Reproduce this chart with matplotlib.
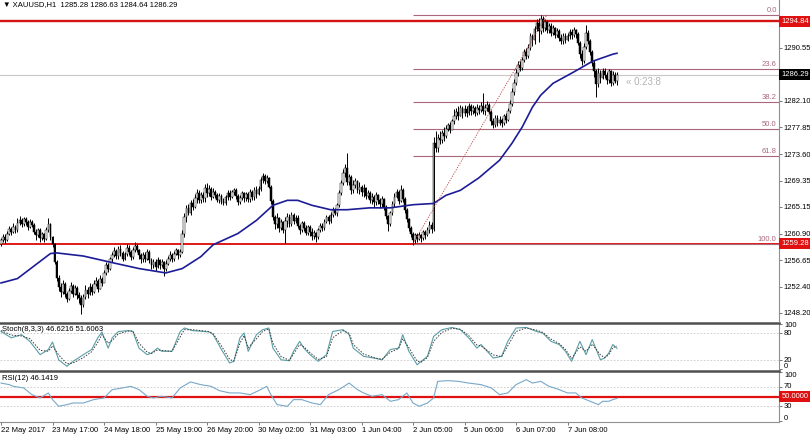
import matplotlib
matplotlib.use('agg')
import matplotlib.pyplot as plt

plt.rcParams['font.family'] = ['Liberation Sans', 'DejaVu Sans']

# H1 candles, one row per date label interval (25 bars)
first_open = 1259.3
closes = [
    1259.8, 1260.4, 1259.9, 1260.9, 1261.6, 1261.2, 1262.0, 1261.4, 1262.6, 1263.1, 1262.4, 1263.2, 1262.7, 1261.9, 1262.8, 1262.3, 1261.2, 1260.6, 1261.4, 1260.2, 1260.8, 1260.1, 1261.5, 1262.4, 1260.3,
    1259.2, 1256.4, 1253.8, 1252.3, 1251.6, 1252.8, 1251.2, 1250.4, 1251.7, 1252.5, 1251.3, 1252.2, 1251.0, 1250.6, 1249.4, 1250.8, 1251.9, 1251.2, 1252.4, 1251.6, 1252.9, 1253.3, 1252.1, 1253.6, 1253.0,
    1254.6, 1255.9, 1255.2, 1256.8, 1257.5, 1258.1, 1257.3, 1258.4, 1257.8, 1256.9, 1257.6, 1258.6, 1258.0, 1257.1, 1258.3, 1258.9, 1258.2, 1257.4, 1256.8, 1257.5, 1256.9, 1257.9, 1256.6, 1255.8, 1256.4,
    1255.6, 1256.7, 1255.9, 1256.3, 1255.2, 1256.1, 1256.9, 1257.5, 1256.8, 1257.7, 1258.2, 1257.4, 1258.0, 1260.9, 1263.5, 1264.9, 1264.2, 1265.8, 1265.1, 1266.6, 1267.4, 1266.2, 1267.1, 1266.5, 1268.2,
    1267.3, 1268.0, 1266.8, 1267.6, 1267.1, 1266.3, 1266.9, 1266.0, 1265.8, 1266.7, 1267.4, 1266.8, 1267.5, 1267.8, 1266.9, 1265.9, 1266.6, 1267.3, 1266.5, 1267.2, 1266.4, 1267.6, 1266.7, 1267.9, 1267.2,
    1268.0, 1269.4, 1270.1, 1269.3, 1269.8, 1268.4, 1266.1, 1263.5, 1262.4, 1263.3, 1261.8, 1262.7, 1261.5, 1262.9, 1263.6, 1262.4, 1263.8, 1262.9, 1263.4, 1262.1, 1261.5, 1262.6, 1261.8, 1261.0, 1261.9,
    1261.2, 1260.5, 1261.0, 1260.3, 1261.4, 1262.1, 1261.7, 1262.8, 1263.5, 1262.9, 1263.9, 1264.6, 1264.2, 1265.4, 1267.3, 1268.9, 1270.6, 1271.4, 1269.2, 1270.0, 1267.8, 1268.7, 1269.3, 1267.9, 1268.4,
    1267.5, 1268.1, 1266.9, 1267.4, 1266.3, 1266.8, 1265.9, 1267.0, 1266.2, 1265.6, 1266.4, 1265.1, 1263.7, 1262.4, 1264.1, 1265.6, 1266.8, 1267.5, 1266.1, 1267.9, 1266.4, 1264.7, 1263.2, 1261.8, 1260.9,
    1259.8, 1260.6, 1260.1, 1260.7, 1260.2, 1261.1, 1260.6, 1261.5, 1262.2, 1261.6, 1275.4, 1274.6, 1276.2, 1275.8, 1276.9, 1276.4, 1277.6, 1278.2, 1277.5, 1278.8, 1279.6, 1280.3, 1279.7, 1280.9, 1280.2,
    1280.8, 1280.1, 1281.2, 1280.5, 1280.9, 1280.2, 1281.0, 1280.6, 1281.3, 1280.4, 1280.9, 1281.5, 1280.3, 1278.9, 1278.2, 1279.4, 1278.6, 1279.1, 1278.5, 1279.6, 1279.0, 1280.4, 1281.6, 1283.5, 1285.0,
    1286.6, 1287.9, 1287.4, 1288.6, 1289.9, 1289.3, 1290.6, 1292.4, 1291.8, 1293.6, 1294.5, 1293.2, 1295.1, 1293.8, 1294.7, 1293.4, 1294.1, 1293.0, 1293.7, 1292.6, 1293.3, 1292.2, 1291.6, 1292.5, 1291.8,
    1292.4, 1293.1, 1292.6, 1293.4, 1292.8, 1291.3, 1289.6, 1288.4, 1290.7, 1292.9, 1291.6, 1289.9, 1288.2, 1286.8, 1284.8, 1286.6, 1285.7, 1286.9, 1286.2, 1285.4, 1286.8, 1284.9, 1286.3, 1285.28, 1286.29,
]
highs = [
    1260.2, 1260.9, 1260.8, 1261.3, 1262.1, 1262.0, 1262.5, 1262.3, 1263.3, 1263.7, 1263.4, 1263.6, 1263.5, 1263.0, 1263.2, 1263.0, 1262.5, 1261.6, 1261.8, 1261.7, 1261.2, 1261.0, 1261.9, 1263.3, 1262.6,
    1260.5, 1259.4, 1256.6, 1254.2, 1253.0, 1253.4, 1253.1, 1251.6, 1252.2, 1253.2, 1252.8, 1252.7, 1252.5, 1251.5, 1251.0, 1251.3, 1252.6, 1252.3, 1253.0, 1252.9, 1253.5, 1253.9, 1253.6, 1254.3, 1253.9,
    1255.0, 1256.3, 1256.2, 1257.1, 1258.0, 1258.7, 1258.5, 1258.9, 1259.0, 1258.1, 1258.0, 1259.2, 1259.0, 1258.3, 1258.8, 1259.5, 1259.3, 1258.5, 1257.8, 1258.0, 1257.9, 1258.4, 1258.2, 1257.0, 1256.9,
    1256.8, 1257.2, 1256.9, 1256.8, 1256.5, 1256.6, 1257.3, 1258.1, 1257.8, 1258.1, 1258.6, 1258.5, 1258.4, 1261.4, 1264.2, 1265.5, 1265.6, 1266.3, 1266.4, 1267.2, 1268.0, 1267.9, 1267.6, 1267.5, 1268.8,
    1269.0, 1268.6, 1268.3, 1268.1, 1267.9, 1267.4, 1267.4, 1267.2, 1266.6, 1267.1, 1267.8, 1267.8, 1267.9, 1268.2, 1268.1, 1267.2, 1267.0, 1267.7, 1267.6, 1267.6, 1267.5, 1268.0, 1267.9, 1268.3, 1268.5,
    1268.5, 1269.9, 1270.5, 1270.4, 1270.3, 1270.0, 1268.6, 1266.4, 1263.9, 1264.1, 1263.5, 1263.2, 1262.9, 1263.5, 1264.2, 1264.0, 1264.3, 1264.1, 1263.9, 1263.8, 1262.4, 1262.9, 1262.9, 1262.2, 1262.3,
    1262.3, 1261.7, 1261.5, 1261.2, 1261.8, 1262.6, 1262.5, 1263.2, 1263.9, 1263.8, 1264.3, 1265.1, 1265.0, 1265.8, 1267.8, 1269.4, 1271.2, 1272.0, 1273.8, 1270.4, 1270.3, 1269.5, 1269.8, 1269.5, 1269.1,
    1268.6, 1268.8, 1268.4, 1267.9, 1267.7, 1267.3, 1267.0, 1267.5, 1267.2, 1266.6, 1266.9, 1266.6, 1265.4, 1263.9, 1264.5, 1266.1, 1267.3, 1268.0, 1267.8, 1268.6, 1268.2, 1266.7, 1265.0, 1263.4, 1262.1,
    1261.2, 1261.0, 1261.0, 1261.2, 1260.9, 1261.5, 1261.4, 1262.0, 1262.9, 1262.7, 1276.3, 1277.3, 1276.8, 1277.2, 1277.4, 1277.9, 1278.3, 1278.6, 1278.7, 1279.2, 1280.8, 1281.0, 1281.2, 1281.4, 1281.3,
    1281.4, 1281.3, 1281.7, 1281.6, 1281.5, 1281.2, 1281.6, 1281.4, 1281.9, 1283.3, 1281.6, 1282.1, 1281.8, 1280.7, 1279.3, 1279.9, 1279.8, 1279.7, 1279.4, 1280.0, 1280.1, 1281.0, 1282.2, 1284.1, 1285.6,
    1287.2, 1288.4, 1288.5, 1289.1, 1290.4, 1290.6, 1291.1, 1292.9, 1292.8, 1294.1, 1295.1, 1295.3, 1295.85, 1295.6, 1295.2, 1295.0, 1294.6, 1294.5, 1294.2, 1293.9, 1293.8, 1293.6, 1292.8, 1293.0, 1292.9,
    1293.0, 1293.6, 1293.5, 1293.9, 1293.6, 1293.1, 1291.6, 1290.2, 1291.3, 1294.2, 1293.4, 1292.0, 1290.3, 1288.6, 1287.2, 1287.3, 1287.1, 1287.4, 1287.3, 1286.7, 1287.2, 1287.1, 1286.8, 1286.7, 1286.63,
]
lows = [
    1258.9, 1259.5, 1259.4, 1259.7, 1260.6, 1260.7, 1261.0, 1261.0, 1261.2, 1262.3, 1262.0, 1262.1, 1262.2, 1261.5, 1261.7, 1261.9, 1260.9, 1259.8, 1260.3, 1259.6, 1259.9, 1259.6, 1259.9, 1261.2, 1259.8,
    1258.8, 1256.0, 1253.3, 1251.7, 1250.8, 1251.3, 1250.7, 1249.9, 1250.2, 1251.4, 1250.8, 1251.0, 1250.5, 1249.8, 1248.0, 1249.1, 1250.5, 1250.6, 1251.0, 1251.1, 1251.4, 1252.5, 1251.6, 1252.0, 1252.5,
    1253.1, 1254.3, 1254.7, 1255.0, 1256.4, 1257.1, 1256.9, 1256.9, 1257.3, 1256.5, 1256.6, 1257.3, 1257.5, 1256.6, 1256.9, 1258.0, 1257.9, 1256.8, 1256.2, 1256.4, 1256.3, 1256.7, 1256.2, 1255.2, 1255.4,
    1254.9, 1255.4, 1255.3, 1255.6, 1254.1, 1254.9, 1255.8, 1256.5, 1256.3, 1256.5, 1257.4, 1256.9, 1257.1, 1257.8, 1260.4, 1262.8, 1263.8, 1263.9, 1264.6, 1264.9, 1265.8, 1265.7, 1265.8, 1265.9, 1266.0,
    1266.8, 1266.9, 1266.3, 1266.5, 1266.6, 1265.9, 1265.8, 1265.6, 1265.4, 1265.5, 1266.3, 1266.3, 1266.6, 1267.0, 1266.4, 1265.5, 1265.6, 1266.2, 1266.0, 1266.1, 1265.9, 1266.0, 1266.2, 1266.3, 1266.6,
    1267.0, 1267.7, 1269.0, 1268.8, 1268.9, 1268.1, 1265.6, 1263.0, 1261.6, 1261.8, 1261.2, 1261.4, 1261.0, 1259.4, 1262.0, 1262.0, 1262.1, 1262.4, 1262.5, 1261.8, 1260.8, 1261.2, 1261.3, 1260.6, 1260.7,
    1260.5, 1259.9, 1260.1, 1259.6, 1260.0, 1261.1, 1261.3, 1261.5, 1262.5, 1262.4, 1262.6, 1263.5, 1263.8, 1263.7, 1265.2, 1267.0, 1268.6, 1270.0, 1268.7, 1268.6, 1267.2, 1267.3, 1268.2, 1267.3, 1267.2,
    1266.9, 1266.8, 1266.4, 1266.5, 1265.7, 1265.6, 1265.2, 1265.5, 1265.6, 1264.9, 1265.2, 1264.6, 1263.2, 1261.3, 1262.1, 1263.8, 1265.2, 1266.6, 1265.6, 1265.9, 1266.0, 1264.2, 1262.8, 1261.3, 1260.4,
    1259.0, 1259.4, 1259.5, 1259.8, 1259.6, 1259.9, 1260.0, 1260.5, 1261.0, 1261.0, 1261.3, 1273.9, 1274.0, 1275.2, 1275.3, 1275.7, 1276.1, 1277.3, 1277.0, 1277.6, 1278.4, 1279.2, 1279.0, 1279.6, 1279.4,
    1279.6, 1279.5, 1279.9, 1279.8, 1280.0, 1279.6, 1279.9, 1280.0, 1280.3, 1280.0, 1279.8, 1280.4, 1280.0, 1278.2, 1277.7, 1277.9, 1278.0, 1278.3, 1277.9, 1278.2, 1278.6, 1278.8, 1280.1, 1281.2, 1283.0,
    1284.6, 1286.1, 1286.8, 1287.1, 1288.3, 1288.8, 1289.0, 1290.3, 1290.9, 1291.2, 1293.2, 1291.5, 1292.8, 1293.1, 1293.3, 1292.9, 1293.0, 1292.4, 1292.6, 1292.1, 1292.3, 1291.6, 1291.1, 1291.2, 1291.3,
    1291.6, 1291.9, 1292.0, 1292.3, 1292.2, 1291.0, 1288.9, 1287.8, 1288.1, 1290.4, 1291.2, 1289.5, 1287.7, 1285.9, 1282.7, 1284.3, 1285.0, 1285.6, 1285.7, 1284.8, 1285.0, 1284.4, 1284.6, 1284.9, 1284.64,
]

# moving average
ma_bars = [0, 8, 16, 24, 27, 40, 48, 56, 67, 80, 88, 97, 103, 115, 124, 132, 139, 144, 151, 160,
           168, 179, 189, 200, 210, 216, 223, 232, 242, 248, 253, 258, 262, 268, 278, 287, 297, 299]
ma_values = [1253.0, 1253.7, 1255.7, 1257.7, 1257.8, 1257.3, 1256.7, 1256.1, 1255.3, 1254.6, 1255.3, 1257.2,
             1259.1, 1260.9, 1263.0, 1265.4, 1266.2, 1266.2, 1265.4, 1264.7, 1264.7, 1265.0, 1265.0, 1265.5,
             1265.7, 1267.0, 1267.8, 1269.8, 1272.6, 1275.3, 1277.9, 1281.1, 1283.0, 1284.9, 1286.7, 1288.4,
             1289.55, 1289.7]

stoch_bars = [0, 5, 10, 14, 19, 23, 25, 28, 32, 35, 40, 44, 47, 49, 52, 54, 57, 62, 64, 67,
              71, 73, 76, 78, 83, 87, 89, 93, 101, 103, 107, 111, 113, 116, 118, 120, 124, 127, 130, 132,
              136, 140, 142, 145, 147, 150, 154, 158, 161, 166, 169, 171, 176, 181, 185, 189, 193, 195, 198, 202,
              204, 207, 210, 214, 219, 223, 227, 231, 233, 239, 243, 246, 250, 255, 260, 263, 267, 271, 274, 277,
              281, 284, 287, 291, 293, 295, 297, 299]
stoch_main = [84, 70, 77, 62, 32.5, 44, 60.7, 21, 6.6, 17.7, 32.5, 44, 70, 83, 47, 70, 84, 86, 84, 47,
              32.5, 36, 47, 40, 40, 84, 91.8, 86, 83, 77, 44, 14, 17.7, 70, 80.6, 40, 77, 88, 91.8, 47,
              21, 19, 40, 62, 47, 32.5, 17.7, 32.5, 84, 88, 77, 47, 28.8, 25, 21, 44, 47, 77, 40, 10,
              17.7, 28.8, 73, 88, 93, 88, 70, 47, 55, 25, 28.8, 62, 91.8, 93, 84, 80.6, 62, 55, 40, 17.7,
              62, 32.5, 66, 21, 25, 36, 55, 46.62]
stoch_signal = [86, 76, 74, 68, 42, 40, 52, 32, 12, 14, 26, 39, 60, 77, 58, 64, 79, 85, 85, 58,
                38, 35, 43, 42, 40, 72, 88, 88, 84, 79, 52, 22, 18, 58, 75, 48, 68, 84, 90, 58,
                28, 20, 34, 55, 50, 37, 22, 28, 70, 86, 80, 55, 34, 26, 22, 38, 46, 68, 48, 18,
                16, 26, 62, 82, 91, 89, 75, 54, 52, 32, 28, 52, 84, 92, 87, 82, 67, 57, 44, 24,
                50, 40, 56, 32, 26, 32, 48, 51.61]

rsi_bars = [0, 4, 6, 11, 15, 19, 23, 25, 28, 32, 35, 40, 45, 50, 54, 59, 63, 67, 71, 74,
            78, 83, 87, 92, 97, 102, 106, 111, 116, 121, 126, 129, 131, 134, 139, 142, 146, 151, 155, 159,
            164, 169, 173, 176, 180, 185, 189, 193, 197, 200, 203, 207, 210, 212, 217, 222, 227, 233, 238, 242,
            246, 250, 255, 258, 262, 266, 271, 275, 279, 282, 286, 290, 292, 295, 297, 299]
rsi_values = [78, 74.7, 71.2, 67.8, 53.9, 47, 57.4, 43.5, 29.6, 33.1, 36.5, 36.5, 43.5, 47, 64.3, 67.8, 71.2, 64.3, 50.4, 47,
              50.4, 47, 67.8, 80.3, 74.7, 71.2, 62.2, 57.4, 57.4, 53.9, 64.3, 71.2, 53.9, 33.1, 29.6, 43.5, 43.5, 36.5, 33.1, 53.9,
              64.3, 78, 64.3, 57.4, 50.4, 53.9, 40, 43.5, 57.4, 36.5, 29.6, 36.5, 47, 81.6, 83, 81.6, 78, 74.7, 67.8, 53.9,
              57.4, 74.7, 85.1, 78, 81.6, 71.2, 64.3, 57.4, 57.4, 47, 40, 33.1, 40, 40, 43.5, 46.14]

price_ticks = [1290.55, 1282.10, 1277.85, 1273.60, 1269.35, 1265.15, 1260.90, 1256.65, 1252.40, 1248.20]
resistance = 1294.84
support = 1259.28
last_price = 1286.29
fib_low, fib_high = 1259.28, 1295.85
fib_bar = 200
fib_top_bar = 265
fib_ratios = [0.0, 23.6, 38.2, 50.0, 61.8, 100.0]

# indicator scale labels: (level, text, where the text sits)
stoch_levels = [(100, '100', 97), (80, '80', 80), (20, '20', 20), (0, '0', 6)]
rsi_levels = [(100, '100', 94), (70, '70', 70), (30, '30', 30), (0, '0', 5)]

date_bars = [0, 25, 50, 75, 100, 125, 150, 175, 200, 225, 250, 275]
date_labels = ['22 May 2017', '23 May 17:00', '24 May 18:00', '25 May 19:00', '26 May 20:00',
               '30 May 02:00', '31 May 03:00', '1 Jun 04:00', '2 Jun 05:00', '5 Jun 06:00',
               '6 Jun 07:00', '7 Jun 08:00']

W, H = 810, 434
fig = plt.figure(figsize=(W / 100, H / 100), dpi=100)
fig.patch.set_facecolor('white')

def axes_px(top, bottom):
    return fig.add_axes([0, 1 - bottom / H, 779 / W, (bottom - top) / H])

ax = axes_px(0, 321)
ax_st = axes_px(323, 370)
ax_rsi = axes_px(371, 422)

xlim = (-1 / 2.06, 778 / 2.06)
fs = 5.5
axis_col = '#909090'
lab_x = 1.0065

for a in (ax, ax_st, ax_rsi):
    a.set_xlim(*xlim)
    a.set_facecolor('white')
    for sp in ('left', 'top', 'bottom'):
        a.spines[sp].set_visible(False)
    a.spines['right'].set_color(axis_col)
    a.spines['right'].set_linewidth(0.8)
    a.yaxis.tick_right()
    a.tick_params(axis='y', length=2.5, width=0.6, color='#606060', labelsize=fs, pad=1)
    a.tick_params(axis='x', bottom=False, labelbottom=False)

# main price panel
ax.set_ylim(1246.92, 1298.21)
n = len(closes)
opens = [first_open] + closes[:-1]
xs = list(range(n))
ax.vlines(xs, lows, highs, color='black', lw=0.7, zorder=3)
for i in range(n):
    o, c = opens[i], closes[i]
    face = 'white' if c >= o else 'black'
    ax.bar(i, c - o if c != o else 0.05, bottom=o, width=0.85, color=face,
           edgecolor='black', lw=0.35, zorder=4)

ax.plot(ma_bars, ma_values, color='#1c1c96', lw=1.2, zorder=5)

ax.axhline(last_price, color='#c8c8c8', lw=0.8, zorder=1)
ax.axhline(resistance, color='#d41414', lw=1.7, zorder=2)
ax.axhline(support, color='#e01818', lw=1.4, zorder=2)

fib_col = '#a8687a'
for r in fib_ratios:
    lvl = fib_high - (fib_high - fib_low) * r / 100
    ax.hlines(lvl, fib_bar, xlim[1], color=fib_col, lw=0.8, zorder=2)
    ax.text(0.997, lvl + 0.15, '%.1f' % r, transform=ax.get_yaxis_transform(),
            ha='right', va='bottom', fontsize=fs, color=fib_col)
ax.plot([fib_bar, fib_top_bar], [fib_low, fib_high], color='#c04040', lw=0.6,
        ls=(0, (1.5, 1.5)), zorder=6)

ax.set_yticks(price_ticks)
ax.set_yticklabels(['%.2f' % v for v in price_ticks])
trans = ax.get_yaxis_transform()
for val, bg in ((resistance, '#e01010'), (support, '#e01010'), (last_price, 'black')):
    ax.text(1.003, val, '%.2f' % val, transform=trans, ha='left', va='center',
            fontsize=fs, color='white', clip_on=False,
            bbox=dict(boxstyle='square,pad=0.25', fc=bg, ec='none'))

ax.text(626 / 779, 1 - 82 / 321, '\u00ab 0:23:8', transform=ax.transAxes, fontsize=7,
        color='#b4b4b4', va='center', ha='left')
fig.text(3 / W, 1 - 5 / H, '\u25bc XAUUSD,H1  1285.28 1286.63 1284.64 1286.29',
         fontsize=fs, va='center', ha='left', family=['Liberation Sans', 'DejaVu Sans'])

# stochastic
ax_st.set_ylim(-1.6, 102.9)
for lvl in (20, 80):
    ax_st.axhline(lvl, color='#c8c8c8', lw=0.6, ls=(0, (2, 2)))
ax_st.plot(stoch_bars, stoch_main, color='#5a9ea6', lw=0.8)
ax_st.plot(stoch_bars, stoch_signal, color='#3a3a3a', lw=0.7, ls=(0, (1.5, 1.5)))
ax_st.set_yticks([lv for lv, _, _ in stoch_levels])
ax_st.set_yticklabels([])
for lv, txt, pos in stoch_levels:
    ax_st.text(lab_x, pos, txt, transform=ax_st.get_yaxis_transform(), ha='left',
               va='center', fontsize=fs, clip_on=False)
ax_st.spines['top'].set_visible(True)
ax_st.spines['top'].set_color('#505050')
ax_st.spines['top'].set_linewidth(1.8)
ax_st.text(0.003, 0.93, 'Stoch(8,3,3) 46.6216 51.6063', transform=ax_st.transAxes,
           fontsize=fs, va='top', ha='left')

# RSI
ax_rsi.set_ylim(-3.1, 103.1)
for lvl in (30, 70):
    ax_rsi.axhline(lvl, color='#c8c8c8', lw=0.6, ls=(0, (2, 2)))
ax_rsi.axhline(50, color='#e01010', lw=1.6)
ax_rsi.plot(rsi_bars, rsi_values, color='#78a8c8', lw=0.8)
ax_rsi.set_yticks([lv for lv, _, _ in rsi_levels])
ax_rsi.set_yticklabels([])
for lv, txt, pos in rsi_levels:
    ax_rsi.text(lab_x, pos, txt, transform=ax_rsi.get_yaxis_transform(), ha='left',
                va='center', fontsize=fs, clip_on=False)
ax_rsi.text(1.003, 50, '50.0000', transform=ax_rsi.get_yaxis_transform(), ha='left',
            va='center', fontsize=fs, color='white', clip_on=False,
            bbox=dict(boxstyle='square,pad=0.25', fc='#e01010', ec='none'))
ax_rsi.spines['top'].set_visible(True)
ax_rsi.spines['top'].set_color('#505050')
ax_rsi.spines['top'].set_linewidth(1.8)
ax_rsi.spines['bottom'].set_visible(True)
ax_rsi.spines['bottom'].set_color(axis_col)
ax_rsi.spines['bottom'].set_linewidth(0.8)
ax_rsi.text(0.003, 0.93, 'RSI(12) 46.1419', transform=ax_rsi.transAxes,
            fontsize=fs, va='top', ha='left')

ax_rsi.set_xticks(date_bars)
ax_rsi.set_xticklabels(date_labels)
ax_rsi.tick_params(axis='x', bottom=True, labelbottom=True, length=2.5, width=0.6,
                   color='#606060', labelsize=fs, pad=1)
for lab in ax_rsi.get_xticklabels():
    lab.set_ha('left')

fig.savefig('out.png', dpi=100, facecolor='white')
